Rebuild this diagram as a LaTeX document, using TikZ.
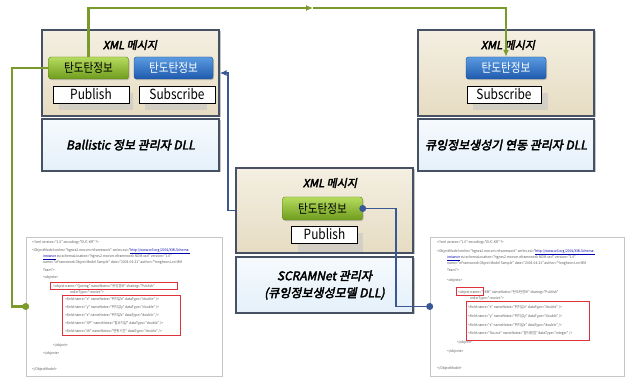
\documentclass[tikz,border=0pt]{standalone}
\usepackage{fontspec}
\newfontfamily\kr{Noto Sans CJK KR}[FakeStretch=0.85]
\newfontfamily\krt{Noto Sans CJK KR}[FakeSlant=0.2,FakeBold=3.2]
\newfontfamily\krx{Noto Sans CJK KR}[FakeStretch=0.92]
\usetikzlibrary{shadows,arrows.meta,calc}
\definecolor{beigeA}{HTML}{F4EFE2}
\definecolor{beigeB}{HTML}{E6DCC2}
\definecolor{edgeC}{HTML}{465163}
\definecolor{lblueA}{HTML}{F6FAFD}
\definecolor{lblueB}{HTML}{E4F0FA}
\definecolor{grnA}{HTML}{B6DC5E}
\definecolor{grnB}{HTML}{6E9C1E}
\definecolor{bluA}{HTML}{5A9BE0}
\definecolor{bluB}{HTML}{1F5AAE}
\definecolor{glineC}{HTML}{7A9A2C}
\definecolor{blineC}{HTML}{3A5896}
\definecolor{redC}{HTML}{E0303A}
\begin{document}
\begin{tikzpicture}[x=1pt,y=-1pt,
  beigebox/.style={draw=edgeC,line width=1.3pt,top color=beigeA,bottom color=beigeB,
    drop shadow={shadow xshift=1.5pt,shadow yshift=-1.5pt,opacity=0.45},inner sep=0},
  lbluebox/.style={draw=edgeC,line width=1.3pt,top color=lblueA,bottom color=lblueB,
    drop shadow={shadow xshift=1.5pt,shadow yshift=-1.5pt,opacity=0.45},inner sep=0,align=center,
    font=\krt\fontsize{12}{17}\selectfont},
  ttl/.style={inner sep=0,font=\krt\fontsize{11}{13}\selectfont},
  btn/.style={rounded corners=2.5pt,minimum width=80pt,minimum height=22pt,inner sep=0,
    font=\kr\fontsize{12.5}{13}\selectfont,
    drop shadow={shadow xshift=1pt,shadow yshift=-1.2pt,opacity=0.4}},
  gbtn/.style={btn,draw=grnB!80!black,top color=grnA,bottom color=grnB,text=black},
  bbtn/.style={btn,draw=bluB!80!black,top color=bluA,bottom color=bluB,text=white},
  psbox/.style={draw=black,line width=0.8pt,fill=white,minimum height=17pt,inner sep=0,
    font=\kr\fontsize{14}{15}\selectfont},
  refl/.style={fill=gray!45,opacity=0.6},
  xmlbox/.style={draw=gray!45,line width=0.6pt,fill=white,
    drop shadow={shadow xshift=1pt,shadow yshift=-1pt,opacity=0.25},inner sep=0},
  xt/.style={anchor=west,inner sep=0,font=\krx\fontsize{3.6}{4.5}\selectfont,text=black!65},
  gline/.style={draw=glineC,line width=2.4pt},
  bline/.style={draw=blineC,line width=1.8pt},
  redbox/.style={draw=redC,line width=1pt},
  dot/.style={circle,inner sep=0,minimum size=7pt}
]
\useasboundingbox (0,0) rectangle (625,379);
\fill[white] (0,0) rectangle (625,379);

% ---------- left module ----------
\node[beigebox,minimum width=177pt,minimum height=86pt] (lbeige) at (130.5,73) {};
\node[lbluebox,minimum width=177pt,minimum height=52pt] (lblue) at (130.5,145) {Ballistic 정보 관리자 DLL};
\node[ttl] (lttl) at (130,45) {XML 메시지};
\fill[refl] (59,93) rectangle (133,110);
\fill[refl] (145,93) rectangle (207,110);
\node[gbtn] (lgreen) at (88.5,68) {탄도탄정보};
\node[bbtn,minimum width=79pt] (lbtnb) at (173.5,68) {탄도탄정보};
\node[psbox,minimum width=76pt] (lpub) at (91,94.5) {Publish};
\node[psbox,minimum width=76pt] (lsub) at (177,94.5) {Subscribe};

% ---------- right module ----------
\node[beigebox,minimum width=176pt,minimum height=86pt] (rbeige) at (506,73) {};
\node[lbluebox,minimum width=176pt,minimum height=52pt] (rblue) at (506,145) {큐잉정보생성기 연동 관리자 DLL};
\node[ttl] (rttl) at (508,45) {XML 메시지};
\fill[refl] (473,93) rectangle (548,110);
\node[bbtn] (rbtnb) at (506,68) {탄도탄정보};
\node[psbox,minimum width=74pt] (rsub) at (504,94.5) {Subscribe};

% ---------- middle module ----------
\node[beigebox,minimum width=177pt,minimum height=85pt] (mbeige) at (324.5,210.5) {};
\node[lbluebox,minimum width=177pt,minimum height=56pt] (mblue) at (324.5,285) {SCRAMNet 관리자\\(큐잉정보생성모델 DLL)};
\node[ttl] (mttl) at (330,183) {XML 메시지};
\fill[refl] (298,233) rectangle (363,252);
\node[gbtn,minimum width=80pt,minimum height=23pt] (mgreen) at (322.5,208.5) {탄도탄정보};
\node[psbox,minimum width=66pt] (mpub) at (324.5,234.5) {Publish};

% ---------- XML boxes ----------
\node[xmlbox,minimum width=196pt,minimum height=139pt] (xmlL) at (124,306.5) {};
\node[xmlbox,minimum width=194pt,minimum height=139pt] (xmlR) at (527,306.5) {};

% left xml text
\node[xt] (l1) at (32,243) {<?xml version="1.0" encoding="EUC-KR" ?>};
\node[xt] (l2) at (32,251) {<ObjectModel xmlns="hgnes2.mocvm.nframework" xmlns:xsi="\textcolor{blue!70!black}{\underline{http://www.w3.org/2001/XMLSchema-}}};
\node[xt] (l3) at (43,257) {\textcolor{blue!70!black}{\underline{instance}} xsi:schemaLocation="hgnes2.mocvm.nframework NOM.xsd" version="1.0"};
\node[xt] (l4) at (43,263) {name="nFramework Object Model Sample" date="2003-04-21" author="Yongheon Lee MM};
\node[xt] (l5) at (43,270) {Team">};
\node[xt] (l6) at (43,278) {<objects>};
\node[xt] (l7) at (53,286) {<object name="Queing" nameNotes="큐잉정보" sharing="Publish"};
\node[xt] (l8) at (70,292) {orderType="receive">};
\node[xt] (l9) at (65,299) {<field name="x" nameNotes="위치값x" dataType="double" />};
\node[xt] (l10) at (65,307) {<field name="y" nameNotes="위치값y" dataType="double" />};
\node[xt] (l11) at (65,315) {<field name="z" nameNotes="위치값z" dataType="double" />};
\node[xt] (l12) at (65,323) {<field name="UP" nameNotes="필요치값" dataType="double" />};
\node[xt] (l13) at (65,331) {<field name="dt" nameNotes="변위시간" dataType="double" />};
\node[xt] (l14) at (53,346) {</object>};
\node[xt] (l15) at (43,354) {</objects>};
\node[xt] (l16) at (32,370) {</ObjectModel>};
\draw[redbox] (50,283) rectangle (177,289.5);
\draw[redbox] (62,296) rectangle (180,336);

% right xml text
\node[xt] (r1) at (437,243) {<?xml version="1.0" encoding="EUC-KR" ?>};
\node[xt] (r2) at (437,252) {<ObjectModel xmlns="hgnes2.mocvm.nframework" xmlns:xsi="\textcolor{blue!70!black}{\underline{http://www.w3.org/2001/XMLSchema-}}};
\node[xt] (r3) at (447,258) {\textcolor{blue!70!black}{\underline{instance}} xsi:schemaLocation="hgnes2.mocvm.nframework NOM.xsd" version="1.0"};
\node[xt] (r4) at (447,264) {name="nFramework Object Model Sample" date="2003-04-21" author="Yongheon Lee MM};
\node[xt] (r5) at (447,270) {Team">};
\node[xt] (r6) at (447,281) {<objects>};
\node[xt] (r7) at (458,292) {<object name="TBM" nameNotes="탄도탄정보" sharing="Publish"};
\node[xt] (r8) at (470,298) {orderType="receive">};
\node[xt] (r9) at (468,307) {<field name="x" nameNotes="위치값x" dataType="double" />};
\node[xt] (r10) at (468,316) {<field name="y" nameNotes="위치값y" dataType="double" />};
\node[xt] (r11) at (468,325) {<field name="z" nameNotes="위치값z" dataType="double" />};
\node[xt] (r12) at (468,333) {<field name="Source" nameNotes="발사원점" dataType="integer" />};
\node[xt] (r13) at (457,343) {</object>};
\node[xt] (r14) at (447,352) {</objects>};
\node[xt] (r15) at (437,369) {</ObjectModel>};
\draw[redbox] (456,288) rectangle (483,296);
\draw[redbox] (466,302) rectangle (589,341);

% ---------- connectors ----------
\coordinate (gmid) at (313,8);
\coordinate (gleft) at (12,0);
\coordinate (bright) at (396,0);
\draw[gline,-{Latex[length=7pt,width=6pt]}] (lgreen.north) |- (gmid);
\draw[gline,-{Latex[length=7pt,width=6pt]}] (gmid) -| (rbtnb.north);
\draw[gline] (lgreen.west) -| (gleft |- xmlL.west) -- (xmlL.west);
\node[dot,fill=glineC] (gdot) at (xmlL.west) {};
\draw[bline,-{Latex[length=7pt,width=6pt]}] (mbeige.west) -- ++(-7,0) |- (lbeige.east);
\draw[bline] (mgreen.east) -| (bright |- xmlR.west) -- (xmlR.west);
\node[dot,fill=blineC] (bdot1) at (mgreen.east) {};
\node[dot,fill=blineC] (bdot2) at (xmlR.west) {};
\end{tikzpicture}
\end{document}
